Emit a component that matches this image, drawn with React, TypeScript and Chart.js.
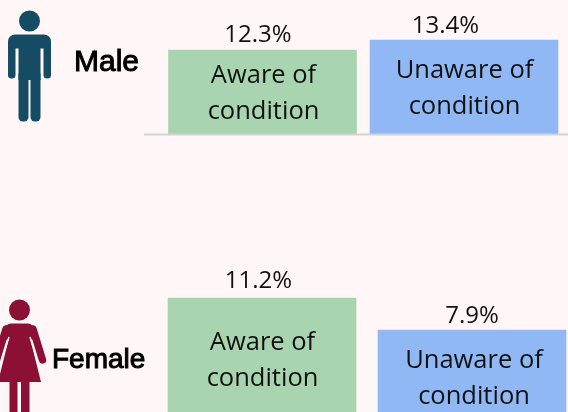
import React, { useEffect, useRef } from "react";
import { Chart, registerables } from "chart.js";

Chart.register(...registerables);

const categories = [
  ["Aware of", "condition"],
  ["Unaware of", "condition"],
];
const maleValues = [12.3, 13.4];
const femaleValues = [11.2, 7.9];

const BG = "#fff6f8";
const GREEN = "#a8d5b0";
const BLUE = "#90b8f5";
const VALUE_FONT = '24px "Open Sans"';
const INNER_FONT = '25.5px "Open Sans"';

type Cfg = {
  values: number[];
  layout: { left: number; right: number; top: number; bottom: number };
  yMin: number;
  yMax: number;
  valueOffset: { dx: number; dy: number }[];
  innerOffset: { dx: number; y1: number; y2: number }[];
  decorate: (ctx: CanvasRenderingContext2D, chart: any) => void;
};

function pill(ctx: CanvasRenderingContext2D, x: number, y: number, w: number, h: number, r: number) {
  ctx.beginPath();
  ctx.roundRect(x, y, w, h, r);
  ctx.fill();
}

function fauxBold(ctx: CanvasRenderingContext2D, text: string, x: number, y: number, size: number) {
  ctx.font = `${size}px "Liberation Sans"`;
  ctx.fillStyle = "#000";
  ctx.strokeStyle = "#000";
  ctx.lineWidth = 1;
  ctx.textAlign = "left";
  ctx.textBaseline = "alphabetic";
  ctx.fillText(text, x, y);
  ctx.strokeText(text, x, y);
}

function drawMale(ctx: CanvasRenderingContext2D, chart: any) {
  ctx.fillStyle = "#154b63";
  ctx.beginPath();
  ctx.arc(29.5, 21, 10.5, 0, Math.PI * 2);
  ctx.fill();
  // shoulders
  ctx.beginPath();
  ctx.roundRect(8, 34.5, 43, 14, [7, 7, 0, 0]);
  ctx.fill();
  // arms
  pill(ctx, 8, 40, 7.5, 38.5, 3.5);
  pill(ctx, 43.5, 40, 7.5, 38.5, 3.5);
  // torso
  ctx.fillRect(18.5, 40, 22, 40);
  // legs
  pill(ctx, 18.5, 70, 10, 51.5, 4.5);
  pill(ctx, 30.5, 70, 10, 51.5, 4.5);
  fauxBold(ctx, "Male", 74, 71, 30);
  // baseline
  const y = chart.scales.y.getPixelForValue(chart.scales.y.min);
  ctx.fillStyle = "#d4d4d4";
  ctx.fillRect(144, y - 0.5, 424, 2);
}

function drawFemale(ctx: CanvasRenderingContext2D) {
  ctx.fillStyle = "#8c1034";
  ctx.beginPath();
  ctx.arc(19.5, 310, 10.5, 0, Math.PI * 2);
  ctx.fill();
  // shoulders
  ctx.beginPath();
  ctx.roundRect(5, 323.5, 29, 16, [6, 6, 0, 0]);
  ctx.fill();
  // dress
  ctx.beginPath();
  ctx.moveTo(9.5, 336);
  ctx.lineTo(29.5, 336);
  ctx.lineTo(41, 382);
  ctx.lineTo(-2, 382);
  ctx.closePath();
  ctx.fill();
  // arms
  ctx.strokeStyle = "#8c1034";
  ctx.lineWidth = 7.5;
  ctx.lineCap = "round";
  ctx.beginPath();
  ctx.moveTo(33, 329);
  ctx.lineTo(42.5, 360);
  ctx.moveTo(6, 329);
  ctx.lineTo(-3.5, 360);
  ctx.stroke();
  // gap between arm and dress
  ctx.strokeStyle = BG;
  ctx.lineWidth = 1.5;
  ctx.lineCap = "butt";
  ctx.beginPath();
  ctx.moveTo(30, 337);
  ctx.lineTo(36.5, 358);
  ctx.moveTo(9, 337);
  ctx.lineTo(1.5, 360);
  ctx.stroke();
  // legs
  ctx.fillStyle = "#8c1034";
  pill(ctx, 9.5, 375, 8, 45, 3.5);
  pill(ctx, 21, 375, 8.5, 45, 3.5);
  fauxBold(ctx, "Female", 52, 368, 28);
}

const maleCfg: Cfg = {
  values: maleValues,
  layout: { left: 161.75, right: 55.25, top: 10, bottom: 306 },
  yMin: 3.06,
  yMax: 16.7,
  valueOffset: [
    { dx: -4.5, dy: 8 },
    { dx: -18.5, dy: 7 },
  ],
  innerOffset: [
    { dx: 1, y1: 33, y2: 69 },
    { dx: 0.5, y1: 38, y2: 74 },
  ],
  decorate: drawMale,
};

const femaleCfg: Cfg = {
  values: femaleValues,
  layout: { left: 157, right: 43, top: 280, bottom: 20 },
  yMin: -1.38,
  yMax: 13.06,
  valueOffset: [
    { dx: -3.5, dy: 10 },
    { dx: 0, dy: 7 },
  ],
  innerOffset: [
    { dx: 0.5, y1: 52, y2: 88 },
    { dx: 2, y1: 38, y2: 74 },
  ],
  decorate: drawFemale,
};

function Panel({ cfg }: { cfg: Cfg }) {
  const ref = useRef<HTMLCanvasElement>(null);
  useEffect(() => {
    if (!ref.current) return;
    const chart = new Chart(ref.current, {
      type: "bar",
      data: {
        labels: categories as any,
        datasets: [
          {
            data: cfg.values,
            backgroundColor: [GREEN, BLUE],
            barThickness: 188,
            base: cfg.yMin,
          } as any,
        ],
      },
      options: {
        animation: false,
        responsive: false,
        devicePixelRatio: 1,
        layout: { padding: cfg.layout },
        plugins: { legend: { display: false }, tooltip: { enabled: false } },
        scales: {
          x: { display: false, grid: { display: false } },
          y: { display: false, min: cfg.yMin, max: cfg.yMax, grid: { display: false } },
        },
      },
      plugins: [
        {
          id: "annotate",
          afterDatasetsDraw(c: any) {
            const ctx: CanvasRenderingContext2D = c.ctx;
            ctx.save();
            cfg.decorate(ctx, c);
            ctx.fillStyle = "#111";
            ctx.textBaseline = "alphabetic";
            ctx.textAlign = "center";
            c.getDatasetMeta(0).data.forEach((bar: any, i: number) => {
              const v = cfg.valueOffset[i];
              ctx.font = VALUE_FONT;
              ctx.fillText(`${cfg.values[i].toFixed(1)}%`, bar.x + v.dx, bar.y - v.dy);
              const t = cfg.innerOffset[i];
              const lines = c.data.labels[i];
              ctx.font = INNER_FONT;
              ctx.fillText(lines[0], bar.x + t.dx, bar.y + t.y1);
              ctx.fillText(lines[1], bar.x + t.dx, bar.y + t.y2);
            });
            ctx.restore();
          },
        },
      ],
    });
    return () => chart.destroy();
  }, [cfg]);
  return (
    <canvas
      ref={ref}
      width={620}
      height={440}
      style={{ position: "absolute", left: 0, top: 0, width: 620, height: 440 }}
    />
  );
}

export default function App() {
  useEffect(() => {
    document.body.style.margin = "0";
    document.body.style.background = BG;
  }, []);
  return (
    <div
      style={{
        position: "relative",
        width: 568,
        height: 412,
        overflow: "hidden",
        background: BG,
      }}
    >
      <Panel cfg={maleCfg} />
      <Panel cfg={femaleCfg} />
    </div>
  );
}
